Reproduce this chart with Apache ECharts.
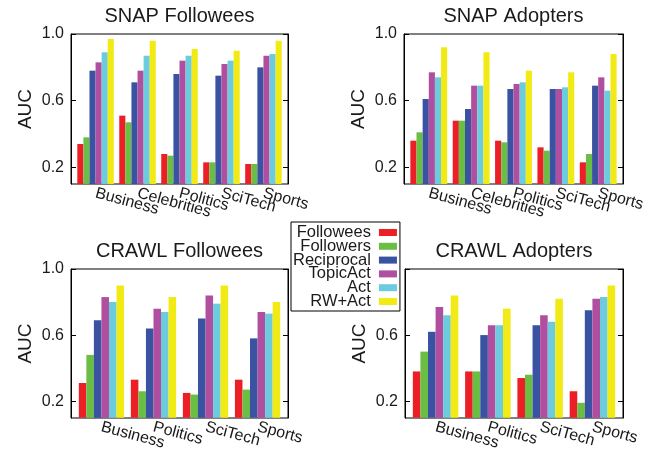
<!DOCTYPE html>
<html>
<head>
<meta charset="utf-8">
<script src="https://cdn.jsdelivr.net/npm/echarts@6/dist/echarts.min.js"></script>
<style>
html,body{margin:0;padding:0;background:#fff;}
#c{width:664px;height:452px;}
</style>
</head>
<body>
<div id="c"></div>
<script>
// ---- data ----
const methods = ['Followees', 'Followers', 'Reciprocal', 'TopicAct', 'Act', 'RW+Act'];
const catsSnap = ['Business', 'Celebrities', 'Politics', 'SciTech', 'Sports'];
const catsCrawl = ['Business', 'Politics', 'SciTech', 'Sports'];
const yTicks = [0.2, 0.6, 1.0];
const titles = ['SNAP Followees', 'SNAP Adopters', 'CRAWL Followees', 'CRAWL Adopters'];

// SNAP Followees
const sfFollowees  = [0.34, 0.51, 0.28, 0.23, 0.22];
const sfFollowers  = [0.38, 0.47, 0.27, 0.23, 0.22];
const sfReciprocal = [0.78, 0.71, 0.76, 0.75, 0.80];
const sfTopicAct   = [0.83, 0.78, 0.84, 0.82, 0.87];
const sfAct        = [0.89, 0.87, 0.87, 0.84, 0.88];
const sfRWAct      = [0.97, 0.96, 0.91, 0.90, 0.96];
// SNAP Adopters
const saFollowees  = [0.36, 0.48, 0.36, 0.32, 0.23];
const saFollowers  = [0.41, 0.48, 0.35, 0.30, 0.28];
const saReciprocal = [0.61, 0.55, 0.67, 0.67, 0.69];
const saTopicAct   = [0.77, 0.69, 0.70, 0.67, 0.74];
const saAct        = [0.74, 0.69, 0.71, 0.68, 0.66];
const saRWAct      = [0.92, 0.89, 0.78, 0.77, 0.88];
// CRAWL Followees
const cfFollowees  = [0.31, 0.33, 0.25, 0.33];
const cfFollowers  = [0.48, 0.26, 0.24, 0.27];
const cfReciprocal = [0.69, 0.64, 0.70, 0.58];
const cfTopicAct   = [0.83, 0.76, 0.84, 0.74];
const cfAct        = [0.80, 0.74, 0.79, 0.73];
const cfRWAct      = [0.90, 0.83, 0.90, 0.80];
// CRAWL Adopters
const caFollowees  = [0.38, 0.38, 0.34, 0.26];
const caFollowers  = [0.50, 0.38, 0.36, 0.19];
const caReciprocal = [0.62, 0.60, 0.66, 0.75];
const caTopicAct   = [0.77, 0.66, 0.72, 0.82];
const caAct        = [0.72, 0.66, 0.68, 0.83];
const caRWAct      = [0.84, 0.76, 0.82, 0.90];

// ---- styling / layout ----
const colors = ['#ec1f26', '#6bbe44', '#3a52a2', '#b04f9f', '#6ccbdc', '#f2ea15'];
const FONT = '"Liberation Sans", Arial, sans-serif';
const TXT = '#1a1a1a';
const X_PAD = 0.585;      // frame padding (in category units) on each side of first/last group
const BAR_FRAC = 0.145;   // bar width as fraction of category spacing

const panels = [
  { cats: catsSnap,  data: [sfFollowees, sfFollowers, sfReciprocal, sfTopicAct, sfAct, sfRWAct],
    frame: { left: 71, top: 34, width: 217, height: 150 } },
  { cats: catsSnap,  data: [saFollowees, saFollowers, saReciprocal, saTopicAct, saAct, saRWAct],
    frame: { left: 404, top: 34, width: 219, height: 150 } },
  { cats: catsCrawl, data: [cfFollowees, cfFollowers, cfReciprocal, cfTopicAct, cfAct, cfRWAct],
    frame: { left: 71, top: 269, width: 217, height: 149 } },
  { cats: catsCrawl, data: [caFollowees, caFollowers, caReciprocal, caTopicAct, caAct, caRWAct],
    frame: { left: 405, top: 269, width: 218, height: 149 } }
];

const option = {
  animation: false,
  backgroundColor: '#fff',
  textStyle: { fontFamily: FONT },
  title: [],
  legend: {
    data: methods,
    orient: 'vertical',
    align: 'right',
    left: 291,
    top: 222,
    itemWidth: 18,
    itemHeight: 7,
    itemGap: -3.2,
    padding: [2, 3, 1, 2],
    borderColor: '#000',
    borderWidth: 1,
    backgroundColor: '#fff',
    selectedMode: false,
    icon: 'rect',
    textStyle: { fontFamily: FONT, fontSize: 16.5, color: TXT, width: 76, align: 'right', padding: [0, 3, 0, 0] }
  },
  grid: [],
  xAxis: [],
  yAxis: [],
  series: []
};

panels.forEach((p, i) => {
  const f = p.frame;
  const n = p.cats.length;
  const band = f.width / (n - 1 + 2 * X_PAD);
  const inset = (X_PAD - 0.5) * band;
  const frameIdx = 2 * i, dataIdx = 2 * i + 1;

  // frame grid: box, y ticks, y labels, AUC name
  option.grid.push({ left: f.left, top: f.top, width: f.width, height: f.height,
    show: true, borderColor: '#000', borderWidth: 1, containLabel: false });
  // data grid: bars + category labels
  option.grid.push({ left: f.left + inset, top: f.top, width: f.width - 2 * inset, height: f.height,
    show: false, containLabel: false });

  option.title.push({
    text: titles[i], left: f.left + f.width / 2, top: f.top - 27.5, textAlign: 'center', padding: 0,
    textStyle: { fontFamily: FONT, fontSize: 20, fontWeight: 'normal', color: TXT }
  });

  // x axes
  option.xAxis.push({ type: 'value', gridIndex: frameIdx, min: 0, max: 1, show: false });
  option.xAxis.push({
    type: 'category', gridIndex: dataIdx, data: p.cats, boundaryGap: true,
    axisLine: { show: false },
    axisTick: { show: false },
    axisLabel: { interval: 0, rotate: -15, margin: 9, fontSize: 16, color: TXT, fontFamily: FONT },
    splitLine: { show: false }
  });

  // y axes: frame left (labels + ticks), frame right (ticks), data (hidden)
  option.yAxis.push({
    type: 'value', gridIndex: frameIdx, min: 0.1, max: 1.0, position: 'left',
    name: 'AUC', nameLocation: 'middle', nameGap: 36, nameRotate: 90,
    nameTextStyle: { fontFamily: FONT, fontSize: 19, color: TXT },
    axisLine: { show: true, onZero: false, lineStyle: { color: '#000', width: 1 } },
    axisTick: { show: true, inside: true, length: 5, customValues: yTicks, lineStyle: { color: '#000' } },
    axisLabel: { customValues: yTicks, margin: 7, fontSize: 16, color: TXT, fontFamily: FONT,
      formatter: v => v.toFixed(1) },
    splitLine: { show: false }
  });
  option.yAxis.push({
    type: 'value', gridIndex: frameIdx, min: 0.1, max: 1.0, position: 'right',
    axisLine: { show: true, onZero: false, lineStyle: { color: '#000', width: 1 } },
    axisTick: { show: true, inside: true, length: 5, customValues: yTicks, lineStyle: { color: '#000' } },
    axisLabel: { show: false },
    splitLine: { show: false }
  });
  option.yAxis.push({ type: 'value', gridIndex: dataIdx, min: 0.1, max: 1.0, show: false,
    splitLine: { show: false } });

  const xAxisIndex = dataIdx;          // 2 x-axes per panel
  const yAxisIndex = 3 * i + 2;        // 3 y-axes per panel
  methods.forEach((m, k) => {
    option.series.push({
      type: 'bar', name: m, xAxisIndex, yAxisIndex,
      data: p.data[k], itemStyle: { color: colors[k] },
      barWidth: BAR_FRAC * band, barGap: '0%'
    });
  });
});

const chart = echarts.init(document.getElementById('c'), null, { renderer: 'canvas' });
chart.setOption(option);
</script>
</body>
</html>
